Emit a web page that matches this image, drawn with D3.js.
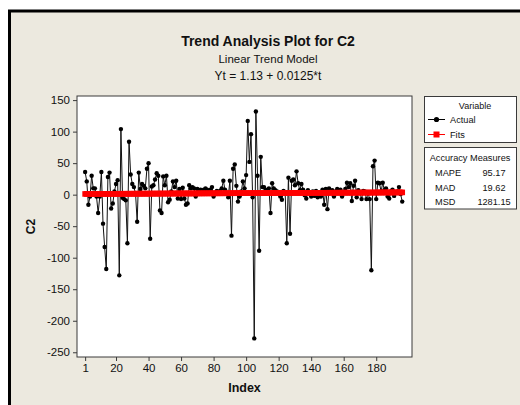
<!DOCTYPE html>
<html>
<head>
<meta charset="utf-8">
<script src="https://cdn.jsdelivr.net/npm/d3@7/dist/d3.min.js"></script>
<style>
    body { margin: 0; background: #fff; }
    text { font-family: "Liberation Sans", Arial, sans-serif; fill: #111; }
</style>
</head>
<body>
<div id="chart"></div>
<script>
// Actual values of C2 (index 1..196)
const actual = [
    36, 21, -16, -3, 30, 10, 10, -3, -29, -3,
    36, -46, -83, -118, 28, 35, -22, -14, 5, 17,
    23, -128, 104, -5, -7, -9, -77, 84, 32, 17,
    12, 2, -43, 35, 9, 17, 14, 10, 41, 50,
    -70, 13, 15, 24, 34, 30, -25, -29, 29, 15,
    30, -12, -8, 5, 21, 12, 22, -6, 9, -7,
    11, -6, -16, -14, 15, 10, 12, 10, -3, 9,
    4, 8, 6, 8, 10, 8, 5, 8, 12, -3,
    2, 6, 4, 6, 10, 22, 8, 2, -4, 22,
    -65, 41, 48, 14, -11, -3, 5, 21, 10, 31,
    117, 52, 96, -4, -228, 132, 30, -89, 60, 12,
    12, 8, 5, 10, -29, 18, 10, 7, 5, 4,
    -3, -8, 6, 4, -77, 27, -62, 22, 24, 15,
    37, 18, 7, 17, 8, -1, -6, 7, 4, -3,
    5, -2, 6, -4, 4, -3, 8, -16, 9, -23,
    10, 4, 7, -3, 5, 9, 6, 8, -3, 4,
    9, 19, 12, 18, -10, 14, 22, -4, 7, 3,
    -7, 6, 5, -7, 2, -7, -120, 45, 54, -7,
    19, 18, 5, 19, 7, 10, -3, -6, 5, 8,
    -2, 3, 5, 12, 1, -11
];

// Linear trend model shown in the title: Yt = 1.13 + 0.0125*t
const trendIntercept = 1.13;
const trendSlope = 0.0125;

const xTicks = [1, 20, 40, 60, 80, 100, 120, 140, 160, 180];
const yTicks = [-250, -200, -150, -100, -50, 0, 50, 100, 150];

const legendLabels = ['Actual', 'Fits'];
const accuracyLabels = ['MAPE', 'MAD', 'MSD'];
const accuracyValues = ['95.17', '19.62', '1281.15'];

const titleText = 'Trend Analysis Plot for C2';
const subtitleText = 'Linear Trend Model';
const equationText = 'Yt = 1.13 + 0.0125*t';

let width = 520,
    height = 405,
    plot = {left: 77, top: 96, right: 412, bottom: 357};

let svg = d3.select('#chart')
    .append('svg')
    .attr('width', width)
    .attr('height', height);

// Minitab-style beige graph window with a heavy frame
svg.append('rect')
    .attr('x', 9.5)
    .attr('y', 11)
    .attr('width', 600)
    .attr('height', 500)
    .attr('fill', '#ECE9DF')
    .attr('stroke', '#000')
    .attr('stroke-width', 3);

// Titles
svg.append('text')
    .attr('x', 268)
    .attr('y', 46)
    .attr('text-anchor', 'middle')
    .style('font-size', '14px')
    .style('font-weight', 'bold')
    .text(titleText);

svg.append('text')
    .attr('x', 268)
    .attr('y', 63)
    .attr('text-anchor', 'middle')
    .style('font-size', '11.5px')
    .text(subtitleText);

svg.append('text')
    .attr('x', 268)
    .attr('y', 80)
    .attr('text-anchor', 'middle')
    .style('font-size', '12px')
    .text(equationText);

let xScale = d3.scaleLinear()
    .domain([-4, 202])
    .range([plot.left, plot.right]);

let yScale = d3.scaleLinear()
    .domain([-257.5, 156.5])
    .range([plot.bottom, plot.top]);

let series = actual.map((v, i) => ({t: i + 1, value: v}));
let fits = series.map(d => ({t: d.t, value: trendIntercept + trendSlope * d.t}));

// Plot area
svg.append('rect')
    .attr('x', plot.left)
    .attr('y', plot.top)
    .attr('width', plot.right - plot.left)
    .attr('height', plot.bottom - plot.top)
    .attr('fill', '#fff')
    .attr('stroke', '#3a3a3a')
    .attr('stroke-width', 1);

// plain hyphen for negatives, like the original
let plainFormat = d => String(d);

let xAxis = svg.append('g')
    .attr('transform', 'translate(0,' + plot.bottom + ')')
    .call(d3.axisBottom(xScale).tickValues(xTicks).tickFormat(plainFormat).tickSize(4).tickPadding(3));

let yAxis = svg.append('g')
    .attr('transform', 'translate(' + plot.left + ',0)')
    .call(d3.axisLeft(yScale).tickValues(yTicks).tickFormat(plainFormat).tickSize(4).tickPadding(3));

[xAxis, yAxis].forEach(ax => {
    ax.select('.domain').remove();
    ax.selectAll('line').attr('stroke', '#3a3a3a');
    ax.selectAll('text')
        .style('font-size', '11.5px')
        .style('font-family', '"Liberation Sans", Arial, sans-serif')
        .attr('fill', '#111');
});

// Axis titles
svg.append('text')
    .attr('x', (plot.left + plot.right) / 2)
    .attr('y', 392)
    .attr('text-anchor', 'middle')
    .style('font-size', '12.5px')
    .style('font-weight', 'bold')
    .text('Index');

svg.append('text')
    .attr('transform', 'translate(35,' + ((plot.top + plot.bottom) / 2) + ') rotate(-90)')
    .attr('text-anchor', 'middle')
    .style('font-size', '12px')
    .style('font-weight', 'bold')
    .text('C2');

// Actual series: thin black line with dots
let line = d3.line()
    .x(d => xScale(d.t))
    .y(d => yScale(d.value));

svg.append('path')
    .datum(series)
    .attr('fill', 'none')
    .attr('stroke', '#111')
    .attr('stroke-width', 1)
    .attr('d', line);

svg.append('g')
    .selectAll('circle')
    .data(series)
    .enter().append('circle')
    .attr('cx', d => xScale(d.t))
    .attr('cy', d => yScale(d.value))
    .attr('r', 2.2)
    .attr('fill', '#000');

// Fits: red line with square markers (drawn on top)
svg.append('path')
    .datum(fits)
    .attr('fill', 'none')
    .attr('stroke', '#ff0000')
    .attr('stroke-width', 1)
    .attr('d', line);

svg.append('g')
    .selectAll('rect')
    .data(fits)
    .enter().append('rect')
    .attr('x', d => xScale(d.t) - 2.8)
    .attr('y', d => yScale(d.value) - 2.8)
    .attr('width', 5.6)
    .attr('height', 5.6)
    .attr('fill', '#ff0000');

// Legend: Variable box
let legend = svg.append('g');

legend.append('rect')
    .attr('x', 424.5)
    .attr('y', 96.5)
    .attr('width', 92)
    .attr('height', 46)
    .attr('fill', '#fff')
    .attr('stroke', '#3a3a3a');

legend.append('text')
    .attr('x', 475)
    .attr('y', 109)
    .attr('text-anchor', 'middle')
    .style('font-size', '9px')
    .text('Variable');

let legendColors = ['#000', '#ff0000'];
legendLabels.forEach((label, i) => {
    let y = 119.5 + i * 15;
    legend.append('line')
        .attr('x1', 428).attr('x2', 445)
        .attr('y1', y).attr('y2', y)
        .attr('stroke', legendColors[i])
        .attr('stroke-width', 1);
    if (i === 0) {
        legend.append('circle')
            .attr('cx', 436.5).attr('cy', y).attr('r', 2.6)
            .attr('fill', legendColors[i]);
    } else {
        legend.append('rect')
            .attr('x', 433.5).attr('y', y - 3)
            .attr('width', 6).attr('height', 6)
            .attr('fill', legendColors[i]);
    }
    legend.append('text')
        .attr('x', 450)
        .attr('y', y + 3.3)
        .style('font-size', '9.2px')
        .text(label);
});

// Accuracy measures box
let acc = svg.append('g');

acc.append('rect')
    .attr('x', 424.5)
    .attr('y', 147.5)
    .attr('width', 92)
    .attr('height', 61.5)
    .attr('fill', '#fff')
    .attr('stroke', '#3a3a3a');

acc.append('text')
    .attr('x', 470)
    .attr('y', 161)
    .attr('text-anchor', 'middle')
    .style('font-size', '9.2px')
    .text('Accuracy Measures');

accuracyLabels.forEach((label, i) => {
    let y = 176 + i * 14.5;
    acc.append('text')
        .attr('x', 435)
        .attr('y', y)
        .style('font-size', '9.2px')
        .text(label);
    acc.append('text')
        .attr('x', 494)
        .attr('y', y)
        .attr('text-anchor', 'middle')
        .style('font-size', '9.2px')
        .text(accuracyValues[i]);
});
</script>
</body>
</html>
